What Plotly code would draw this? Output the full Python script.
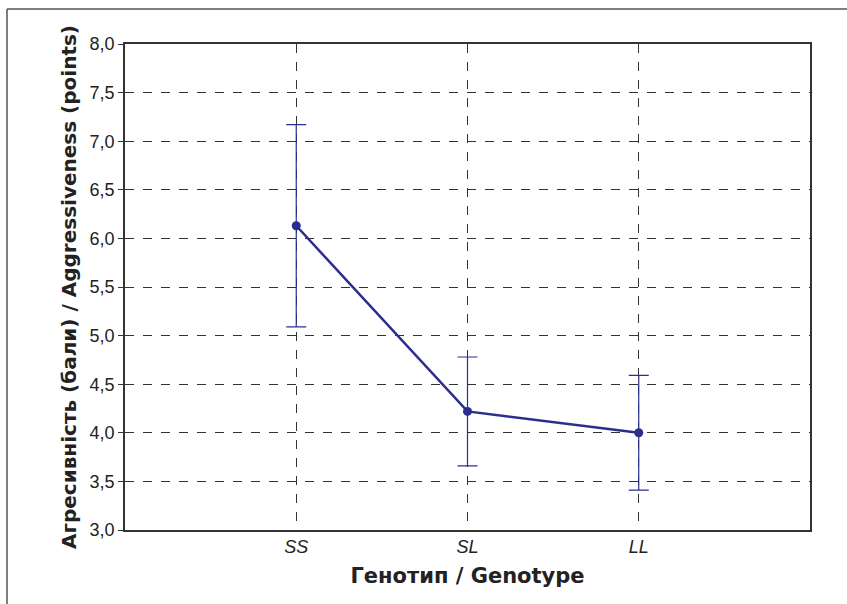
import plotly.graph_objects as go

categories = ["SS", "SL", "LL"]
means = [6.13, 4.22, 4.00]
upper = [7.17, 4.78, 4.59]
lower = [5.09, 3.66, 3.41]
y_ticks = [3.0, 3.5, 4.0, 4.5, 5.0, 5.5, 6.0, 6.5, 7.0, 7.5, 8.0]

err_plus = [u - m for u, m in zip(upper, means)]
err_minus = [m - l for m, l in zip(means, lower)]

line_color = "#2b2e8f"
x_pos = list(range(len(categories)))

fig = go.Figure()
fig.add_trace(go.Scatter(
    x=x_pos, y=means, mode="lines+markers",
    line=dict(color=line_color, width=2.5),
    marker=dict(color=line_color, size=9),
    error_y=dict(type="data", symmetric=False, array=err_plus, arrayminus=err_minus,
                 color=line_color, thickness=1.2, width=10),
    showlegend=False,
))

W, H = 847, 604
L, R, T, B = 125, 37, 44, 74
pw, ph = W - L - R, H - T - B

def px_x(p):
    return (p - L) / pw

def px_y(p):
    return (H - B - p) / ph

# outer frame (left and top)
fig.add_shape(type="line", xref="paper", yref="paper",
              x0=px_x(7), x1=px_x(850), y0=px_y(9), y1=px_y(9),
              line=dict(color="#555555", width=1.5))
fig.add_shape(type="line", xref="paper", yref="paper",
              x0=px_x(7), x1=px_x(7), y0=px_y(9), y1=px_y(610),
              line=dict(color="#555555", width=1.5))

tick_font = dict(family="Liberation Sans, Arial", size=18, color="#222222")
xtitle_font = dict(family="DejaVu Sans, Liberation Sans", size=21, color="#222222")
ytitle_font = dict(family="DejaVu Sans, Liberation Sans", size=20, color="#222222")

fig.update_layout(
    width=W, height=H,
    margin=dict(l=L, r=R, t=T, b=B),
    paper_bgcolor="white", plot_bgcolor="white",
    separators=",.",
    xaxis=dict(
        range=[-1, 3], tickvals=x_pos,
        ticktext=["<i>" + c + "</i>" for c in categories],
        tickfont=tick_font, ticks="",
        showgrid=True, gridcolor="#333333", griddash="dash", gridwidth=1,
        showline=True, linecolor="#333333", linewidth=1.5, mirror=True,
        zeroline=False,
        title=dict(text="<b>Генотип / Genotype</b>", font=xtitle_font, standoff=12),
    ),
    yaxis=dict(
        range=[3, 8], tickvals=y_ticks, tickformat=".1f",
        tickfont=tick_font, ticks="outside", ticklen=5, tickcolor="#333333",
        showgrid=True, gridcolor="#333333", griddash="dash", gridwidth=1,
        showline=True, linecolor="#333333", linewidth=1.5, mirror=True,
        zeroline=False,
        title=dict(text="<b>Агресивність (бали) / Aggressiveness (points)</b>", font=ytitle_font, standoff=8),
    ),
)

fig.write_html("out.html")
